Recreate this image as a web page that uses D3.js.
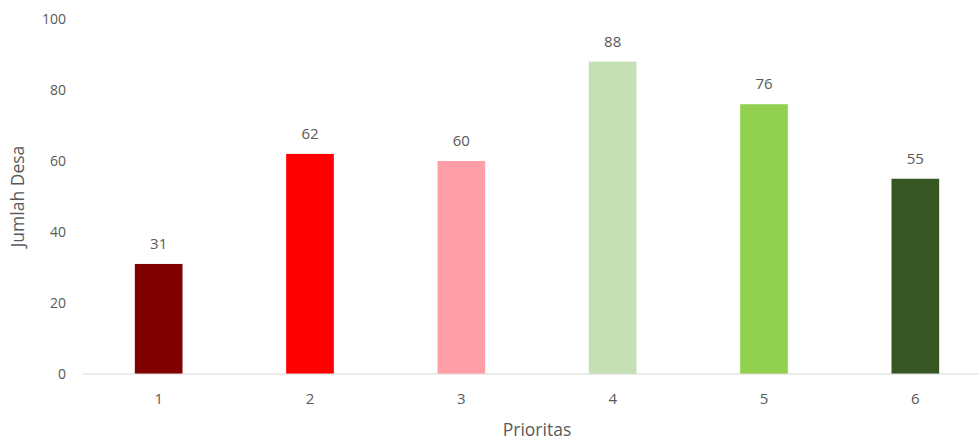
<!DOCTYPE html>
<html>
<head>
<meta charset="utf-8">
<script src="https://cdn.jsdelivr.net/npm/d3@7"></script>
<style>
  html, body { margin: 0; padding: 0; background: #fff; }
  svg text { font-family: "Open Sans", "Liberation Sans", sans-serif; fill: #595959; }
</style>
</head>
<body>
<svg id="chart" width="979" height="441"></svg>
<script>
const categories = ["1", "2", "3", "4", "5", "6"];
const values = [31, 62, 60, 88, 76, 55];
const colors = ["#800000", "#ff0000", "#ff9ea6", "#c5e0b4", "#92d050", "#375623"];
const yTicks = [0, 20, 40, 60, 80, 100];

const svg = d3.select("#chart");
const margin = { left: 83, right: -12, top: 19, bottom: 67 };
const W = 979, H = 441;
const innerBottom = H - margin.bottom;

const x = d3.scaleBand()
  .domain(categories)
  .range([margin.left, W - margin.right])
  .paddingInner(0.685)
  .paddingOuter(0.3425);

const y = d3.scaleLinear().domain([0, 100]).range([innerBottom, margin.top]);

// y tick labels (no axis line, no gridlines)
svg.append("g").selectAll("text")
  .data(yTicks)
  .join("text")
  .attr("x", 66)
  .attr("y", d => y(d))
  .attr("dy", "0.35em")
  .attr("text-anchor", "end")
  .attr("font-size", 14)
  .text(d => d);

// bars
svg.append("g").selectAll("rect")
  .data(values)
  .join("rect")
  .attr("x", (d, i) => x(categories[i]))
  .attr("width", x.bandwidth())
  .attr("y", d => y(d))
  .attr("height", d => y(0) - y(d))
  .attr("fill", (d, i) => colors[i]);

// baseline
svg.append("line")
  .attr("x1", margin.left).attr("x2", W)
  .attr("y1", y(0)).attr("y2", y(0))
  .attr("stroke", "#d9d9d9").attr("stroke-width", 1.2);

// value labels
svg.append("g").selectAll("text")
  .data(values)
  .join("text")
  .attr("x", (d, i) => x(categories[i]) + x.bandwidth() / 2)
  .attr("y", d => y(d) - 20)
  .attr("dy", "0.35em")
  .attr("text-anchor", "middle")
  .attr("font-size", 15)
  .text(d => d);

// category labels
svg.append("g").selectAll("text")
  .data(categories)
  .join("text")
  .attr("x", d => x(d) + x.bandwidth() / 2)
  .attr("y", 399)
  .attr("dy", "0.35em")
  .attr("text-anchor", "middle")
  .attr("font-size", 15)
  .text(d => d);

// axis titles
svg.append("text")
  .attr("x", (x.range()[0] + x.range()[1]) / 2)
  .attr("y", 436)
  .attr("text-anchor", "middle")
  .attr("font-size", 17.5)
  .text("Prioritas");

svg.append("text")
  .attr("transform", `translate(18, ${(y(0) + y(100)) / 2}) rotate(-90)`)
  .attr("dy", "0.35em")
  .attr("text-anchor", "middle")
  .attr("font-size", 17.5)
  .text("Jumlah Desa");
</script>
</body>
</html>
